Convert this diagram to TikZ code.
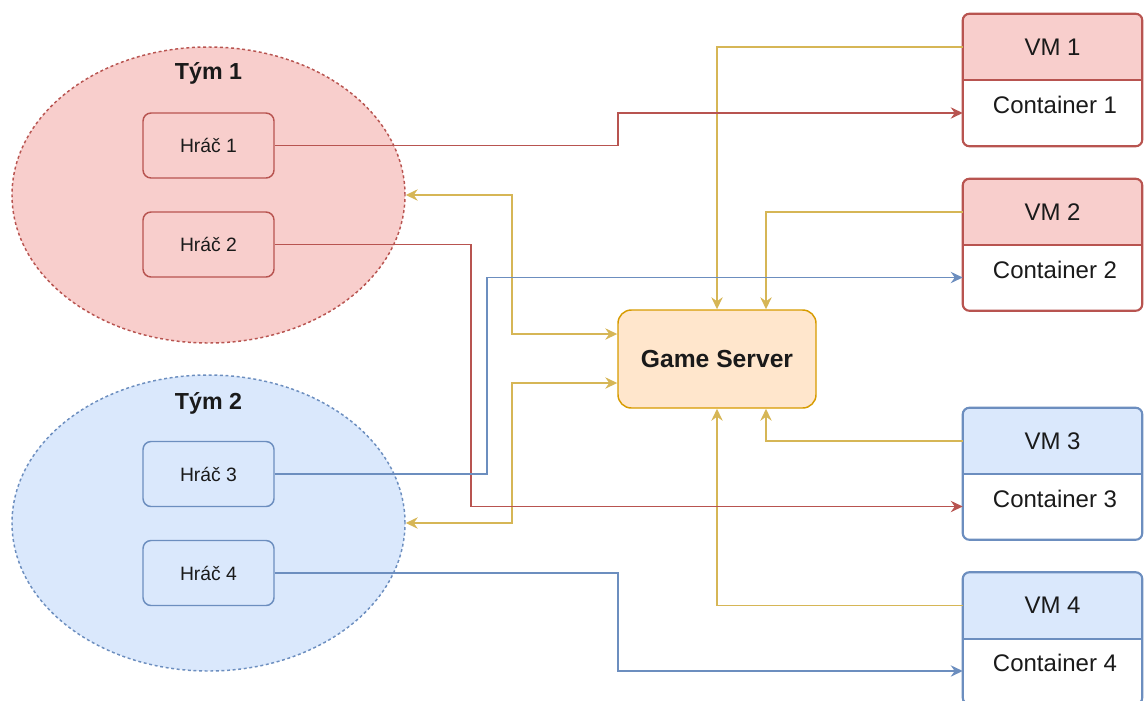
\documentclass[tikz,border=0pt]{standalone}
\usepackage{fontspec}
\setmainfont{Liberation Sans}
\usetikzlibrary{arrows.meta,shapes.geometric,backgrounds}
\definecolor{redS}{HTML}{B85450}
\definecolor{redF}{HTML}{F8CECC}
\definecolor{bluS}{HTML}{6C8EBF}
\definecolor{bluF}{HTML}{DAE8FC}
\definecolor{yelS}{HTML}{D6B656}
\definecolor{gsF}{HTML}{FFE6CC}
\definecolor{gsS}{HTML}{D79B00}
\definecolor{txt}{HTML}{1A1A1A}
\begin{document}
\begin{tikzpicture}[x=0.75pt,y=-0.75pt,
  team/.style={ellipse, draw, dash pattern=on 2.2pt off 2pt, line width=1.1pt,
    minimum width=294.75pt, minimum height=222pt, inner sep=0pt},
  teamlabel/.style={font=\bfseries\fontsize{17.4}{20}\selectfont, text=txt},
  player/.style={rectangle, rounded corners=6pt, draw, line width=1.1pt,
    minimum width=98.25pt, minimum height=48.75pt, inner sep=0pt,
    font=\fontsize{14.5}{17}\selectfont, text=txt},
  half/.style={rectangle, minimum width=134.25pt, minimum height=49.5pt, inner sep=0pt,
    font=\fontsize{18}{21}\selectfont, text=txt},
  conttext/.style={inner sep=0pt, font=\fontsize{18}{21}\selectfont, text=txt},
  vmframe/.style={rounded corners=5pt, line width=1.6pt},
  gsbox/.style={rectangle, rounded corners=10pt, draw=gsS, fill=gsF, line width=1.1pt,
    minimum width=148.5pt, minimum height=73.5pt, inner sep=0pt,
    font=\bfseries\fontsize{18.5}{22}\selectfont, text=txt},
  tip/.tip={Stealth[length=9pt,width=8.5pt,inset=3pt]},
  conn/.style={line width=1.2pt, -tip},
  both/.style={line width=1.2pt, tip-tip}
]
\useasboundingbox (0,0) rectangle (1144,700);

% teams
\node[team, draw=redS, fill=redF] (t1) at (208.5,195) {};
\node[teamlabel] (t1l) at (208.5,73) {Tým 1};
\node[team, draw=bluS, fill=bluF] (t2) at (208.5,523) {};
\node[teamlabel] (t2l) at (208.5,403) {Tým 2};

% players
\node[player, draw=redS, fill=redF] (p1) at (208.5,145.5) {Hráč 1};
\node[player, draw=redS, fill=redF] (p2) at (208.5,244.5) {Hráč 2};
\node[player, draw=bluS, fill=bluF] (p3) at (208.5,474) {Hráč 3};
\node[player, draw=bluS, fill=bluF] (p4) at (208.5,573) {Hráč 4};

% game server
\node[gsbox] (gs) at (717,359) {Game Server};

% VMs
\node[half] (vm1) at (1052.5,47) {VM 1};
\node[half] (c1) at (1052.5,113) {};
\node[conttext] (c1t) at (1055,105) {Container 1};
\node[half] (vm2) at (1052.5,212) {VM 2};
\node[half] (c2) at (1052.5,277.5) {};
\node[conttext] (c2t) at (1055,269.5) {Container 2};
\node[half] (vm3) at (1052.5,441) {VM 3};
\node[half] (c3) at (1052.5,506.5) {};
\node[conttext] (c3t) at (1055,498.5) {Container 3};
\node[half] (vm4) at (1052.5,605.5) {VM 4};
\node[half] (c4) at (1052.5,671) {};
\node[conttext] (c4t) at (1055,663) {Container 4};

\begin{scope}[on background layer]
  \begin{scope}
    \clip[rounded corners=5pt] (vm1.north west) rectangle (c1.south east);
    \fill[white] (vm1.north west) rectangle (c1.south east);
    \fill[redF] (vm1.north west) rectangle (vm1.south east);
  \end{scope}
  \begin{scope}
    \clip[rounded corners=5pt] (vm2.north west) rectangle (c2.south east);
    \fill[white] (vm2.north west) rectangle (c2.south east);
    \fill[redF] (vm2.north west) rectangle (vm2.south east);
  \end{scope}
  \begin{scope}
    \clip[rounded corners=5pt] (vm3.north west) rectangle (c3.south east);
    \fill[white] (vm3.north west) rectangle (c3.south east);
    \fill[bluF] (vm3.north west) rectangle (vm3.south east);
  \end{scope}
  \begin{scope}
    \clip[rounded corners=5pt] (vm4.north west) rectangle (c4.south east);
    \fill[white] (vm4.north west) rectangle (c4.south east);
    \fill[bluF] (vm4.north west) rectangle (vm4.south east);
  \end{scope}
\end{scope}

\draw[vmframe, redS] (vm1.north west) rectangle (c1.south east);
\draw[redS, line width=1.6pt] (vm1.south west) -- (vm1.south east);
\draw[vmframe, redS] (vm2.north west) rectangle (c2.south east);
\draw[redS, line width=1.6pt] (vm2.south west) -- (vm2.south east);
\draw[vmframe, bluS] (vm3.north west) rectangle (c3.south east);
\draw[bluS, line width=1.6pt] (vm3.south west) -- (vm3.south east);
\draw[vmframe, bluS] (vm4.north west) rectangle (c4.south east);
\draw[bluS, line width=1.6pt] (vm4.south west) -- (vm4.south east);

% yellow connectors
\draw[conn, yelS] (vm1.west) -| (gs.north);
\draw[conn, yelS] (vm2.west) -| ([xshift=36.75pt]gs.north);
\draw[conn, yelS] (vm3.west) -| ([xshift=36.75pt]gs.south);
\draw[conn, yelS] (vm4.west) -| (gs.south);
\draw[both, yelS] (t1.east) -- (512,195) |- ([yshift=18.75pt]gs.west);
\draw[both, yelS] (t2.east) -- (512,523) |- ([yshift=-18pt]gs.west);

% player connectors
\draw[conn, redS] (p1.east) -- (618,145.5) |- (c1.west);
\draw[conn, redS] (p2.east) -- (471,244.5) |- (c3.west);
\draw[conn, bluS] (p3.east) -- (487,474) |- (c2.west);
\draw[conn, bluS] (p4.east) -- (618,573) |- (c4.west);
\end{tikzpicture}
\end{document}
